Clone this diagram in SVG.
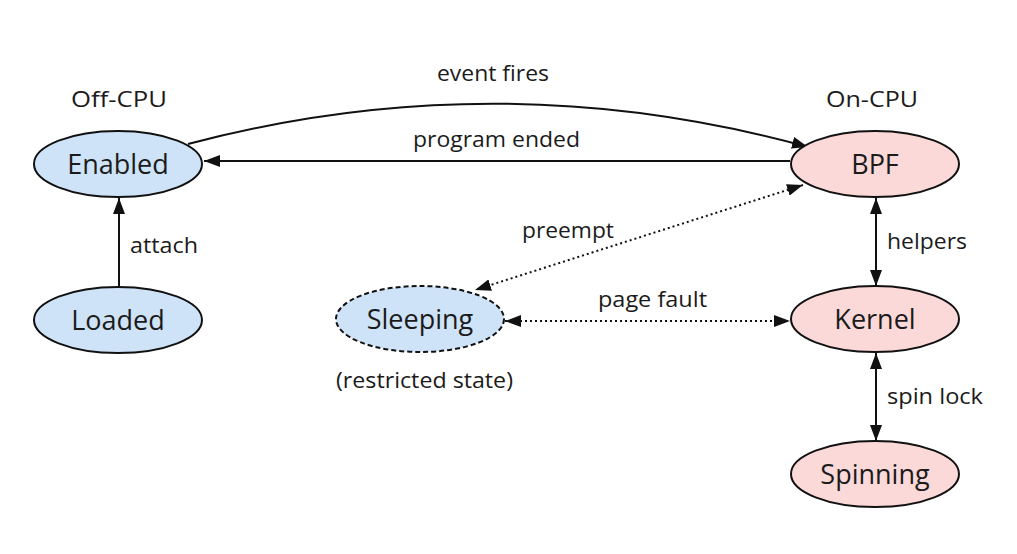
<svg xmlns="http://www.w3.org/2000/svg" width="1017" height="554" viewBox="0 0 1017 554">
<style>
text{font-family:"Open Sans","Liberation Sans",Arial,sans-serif;fill:#1b1b1b}
.nl{font-size:27px;text-anchor:middle}
.el{font-size:22.5px}
.c{text-anchor:middle}
.off{fill:#cfe3f8;stroke:#111;stroke-width:2}
.on{fill:#fcd9d9;stroke:#111;stroke-width:2}
.dash{stroke-dasharray:5 3}
.edge{fill:none;stroke:#111;stroke-width:2}
.dot{stroke-dasharray:2 3}
</style>
<defs>
<marker id="ah" markerUnits="userSpaceOnUse" markerWidth="16" markerHeight="12" refX="16" refY="6" orient="auto-start-reverse">
<path d="M0,0 L16,6 L0,12 z" fill="#111"/>
</marker>
</defs>
<rect width="1017" height="554" fill="#fff"/>
<text class="el" x="71" y="107" textLength="96" lengthAdjust="spacingAndGlyphs">Off-CPU</text>
<text class="el" x="826" y="107" textLength="92" lengthAdjust="spacingAndGlyphs">On-CPU</text>
<g id="connectors">
<path class="edge" d="M188,144 Q498,62 808,147" marker-end="url(#ah)"/>
<line class="edge" x1="790" y1="161" x2="204" y2="161" marker-end="url(#ah)"/>
<line class="edge" x1="119" y1="287" x2="119" y2="198" marker-end="url(#ah)"/>
<line class="edge dot" x1="803" y1="185" x2="475" y2="290" marker-start="url(#ah)" marker-end="url(#ah)"/>
<line class="edge dot" x1="505" y1="321" x2="790" y2="321" marker-start="url(#ah)" marker-end="url(#ah)"/>
<line class="edge" x1="876" y1="198" x2="876" y2="286" marker-start="url(#ah)" marker-end="url(#ah)"/>
<line class="edge" x1="876" y1="353" x2="876" y2="441" marker-start="url(#ah)" marker-end="url(#ah)"/>
<text class="el" x="437" y="81" textLength="112" lengthAdjust="spacingAndGlyphs">event fires</text>
<text class="el" x="413" y="147" textLength="167" lengthAdjust="spacingAndGlyphs">program ended</text>
<text class="el" x="130" y="253" textLength="68" lengthAdjust="spacingAndGlyphs">attach</text>
<text class="el" x="522" y="238" textLength="92" lengthAdjust="spacingAndGlyphs">preempt</text>
<text class="el" x="598" y="307" textLength="109" lengthAdjust="spacingAndGlyphs">page fault</text>
<text class="el" x="887" y="249" textLength="80" lengthAdjust="spacingAndGlyphs">helpers</text>
<text class="el" x="887" y="404" textLength="96" lengthAdjust="spacingAndGlyphs">spin lock</text>
</g>
<g id="enabled">
<ellipse class="off" cx="118" cy="164" rx="84" ry="33"/>
<text class="nl" x="118" y="174">Enabled</text>
</g>
<g id="loaded">
<ellipse class="off" cx="118" cy="320" rx="84" ry="33"/>
<text class="nl" x="118" y="330">Loaded</text>
</g>
<g id="sleeping">
<ellipse class="off dash" cx="420" cy="319" rx="84" ry="33"/>
<text class="nl" x="420" y="329">Sleeping</text>
<text class="el" x="336" y="388" textLength="177" lengthAdjust="spacingAndGlyphs">(restricted state)</text>
</g>
<g id="bpf">
<ellipse class="on" cx="875" cy="164" rx="84" ry="33"/>
<text class="nl" x="875" y="174">BPF</text>
</g>
<g id="kernel">
<ellipse class="on" cx="875" cy="319" rx="84" ry="33"/>
<text class="nl" x="875" y="329">Kernel</text>
</g>
<g id="spinning">
<ellipse class="on" cx="875" cy="474" rx="84" ry="33"/>
<text class="nl" x="875" y="484">Spinning</text>
</g>
</svg>
